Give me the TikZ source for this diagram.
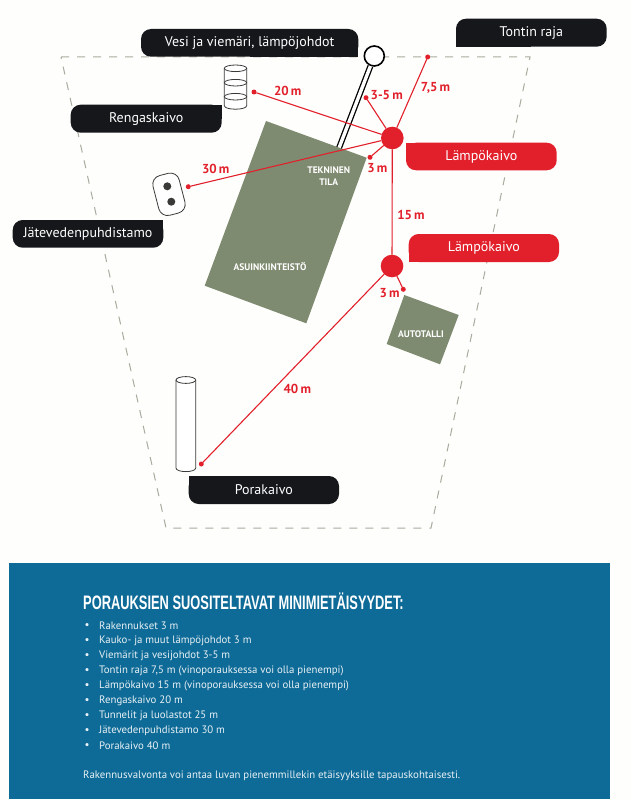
\documentclass[tikz,border=0pt]{standalone}
\usepackage{fontspec}
\setmainfont{PT Sans}
\newfontfamily\condfont[FakeStretch=0.66]{Liberation Sans}
\usetikzlibrary{calc}
\definecolor{paper}{HTML}{FEFEFC}
\definecolor{tabblack}{HTML}{15171A}
\definecolor{tabred}{HTML}{E2202C}
\definecolor{bluepanel}{HTML}{0E6A97}
\definecolor{houseg}{HTML}{7F8B70}
\definecolor{dashg}{HTML}{A8AB9E}
\definecolor{welline}{HTML}{3A3A38}
\definecolor{listtext}{HTML}{E8F1F5}
\tikzset{
  tabshape/.style={rounded corners=10pt,inner sep=0pt,outer sep=0pt,draw=none},
  tabtext/.style={text=white,font=\fontsize{14}{14}\selectfont,inner sep=0pt},
  distline/.style={draw=tabred,line width=1.1pt},
  reddot/.style={circle,fill=tabred,inner sep=0pt,minimum size=5pt,outer sep=0pt},
  bigdot/.style={circle,fill=tabred,inner sep=0pt,minimum size=22.6pt,outer sep=0pt},
  distlabel/.style={text=tabred,font=\fontsize{13}{13}\selectfont\bfseries,inner sep=0pt},
  houselabel/.style={text=white,font=\fontsize{9.5}{9.5}\selectfont\bfseries,inner sep=0pt},
  houseshape/.style={fill=houseg,draw=none},
  welloutline/.style={draw=welline,line width=0.8pt,fill=white},
  plotedge/.style={draw=dashg,line width=1pt,dash pattern=on 8pt off 8pt},
  itemtext/.style={text=listtext,anchor=west,font=\fontsize{10.8}{11}\selectfont,inner sep=0pt},
}
% name, x1,y1,x2,y2, colour, square corner anchor, text
\newcommand{\tabbox}[8]{%
  \path let \p1=(#2,#3), \p2=(#4,#5) in
    node[tabshape,fill=#6,minimum width=\x2-\x1,minimum height=\y1-\y2] (#1) at ($(#2,#3)!.5!(#4,#5)$) {};
  \fill[#6] (#1.#7) rectangle (#1.center);
  \node[tabtext] (#1text) at (#1.center) {#8};
}
\newcommand{\listitem}[3]{%
  \node[text=listtext,font=\fontsize{11}{11}\selectfont,inner sep=0pt] (b#1) at (87,#2) {•};
  \node[itemtext] (i#1) at (99,#2) {#3};
}
\begin{document}
\begin{tikzpicture}[x=1pt,y=-1pt]
\useasboundingbox (0,0) rectangle (631,800);
\fill[paper] (0,0) rectangle (631,800);
% plot boundary
\coordinate (pa) at (61,57); \coordinate (pb) at (530,57);
\coordinate (pc) at (431,528); \coordinate (pd) at (166,528);
\draw[plotedge] (pa) -- (pb) -- (pc) -- (pd) -- cycle;
% pipe
\node[circle,draw=black,fill=white,line width=1.6pt,minimum size=20pt,inner sep=0pt] (pipehead) at (374.3,56) {};
\coordinate (pipefoot) at (338.6,149);
\draw[line width=1.3pt,draw=black,double=white,double distance=3.4pt] (pipehead) -- (pipefoot);
% buildings
\path[houseshape] (266,121) -- (366.7,157.7) -- (306.3,323.3) -- (204.7,285.7) -- cycle;
\path[houseshape] (404.3,295) -- (458.7,315) -- (440,364.3) -- (386.7,344) -- cycle;
\node[houselabel] (tek1) at (328.7,170) {TEKNINEN};
\node[houselabel] (tek2) at (328.7,182.3) {TILA};
\node[houselabel] (asu) at (270,266) {ASUINKIINTEISTÖ};
\node[houselabel] (aut) at (421,333.7) {AUTOTALLI};
% ring well
\draw[welloutline] (224.3,68.3) -- (224.3,105.6) .. controls (224.3,110.4) and (246.7,110.4) .. (246.7,105.6) -- (246.7,68.3);
\draw[welloutline] (235.5,68.3) ellipse [x radius=11.2,y radius=3.3];
\draw[welloutline] (235.5,82.7) ellipse [x radius=11.2,y radius=3.3];
\draw[welloutline] (235.5,96.7) ellipse [x radius=11.2,y radius=3.3];
% septic
\node[draw=welline,line width=0.8pt,fill=white,rounded corners=9pt,rotate=14.5,minimum width=27pt,minimum height=41pt,inner sep=0pt] (sept) at (169,194.3) {};
\fill[welline] (167.3,186.3) circle (4);
\fill[welline] (171.3,201.7) circle (4);
% bore well
\draw[welloutline] (176,380) -- (176,468) .. controls (176,472.8) and (195.7,472.8) .. (195.7,468) -- (195.7,380);
\draw[welloutline] (185.85,380) ellipse [x radius=9.85,y radius=3.4];
% distance end points
\node[reddot] (d20) at (254,92) {};
\node[reddot] (d35) at (366,97.7) {};
\node[reddot] (d75) at (427.7,57) {};
\node[reddot] (d3a) at (370,157.3) {};
\node[reddot] (d30) at (188.3,186.7) {};
\node[reddot] (d3b) at (403.3,289.3) {};
\node[reddot] (d40) at (201.3,464) {};
\node[bigdot] (w1) at (392.3,138) {};
\node[bigdot] (w2) at (392,266) {};
\draw[distline] (w1) -- (d20);
\draw[distline] (w1) -- (d35);
\draw[distline] (w1) -- (d75);
\draw[distline] (w1) -- (d3a);
\draw[distline] (w1) -- (d30);
\draw[distline] (w1) -- (w2);
\draw[distline] (w2) -- (d3b);
\draw[distline] (w2) -- (d40);
% distance labels
\node[distlabel] (l20) at (287.7,90.7) {20\,m};
\node[distlabel] (l35) at (386.7,95) {3-5\,m};
\node[distlabel] (l75) at (435.5,88.3) {7,5\,m};
\node[distlabel] (l3a) at (377.3,168.3) {3\,m};
\node[distlabel] (l30) at (215.7,169.3) {30\,m};
\node[distlabel] (l15) at (411,215) {15\,m};
\node[distlabel] (l3b) at (389.7,293) {3\,m};
\node[distlabel] (l40) at (297.3,389.3) {40\,m};
% tabs
\tabbox{vesi}{141}{29}{358.3}{56.7}{tabblack}{south east}{Vesi ja viemäri, lämpöjohdot}
\tabbox{tontti}{456}{18.7}{606.7}{46.7}{tabblack}{south west}{Tontin raja}
\tabbox{rengas}{70.7}{104.7}{221.7}{132.7}{tabblack}{north east}{Rengaskaivo}
\tabbox{jate}{12.7}{220}{163.3}{247.7}{tabblack}{north east}{Jätevedenpuhdistamo}
\tabbox{lampa}{406}{142.7}{556.7}{170.3}{tabred}{north west}{Lämpökaivo}
\tabbox{lampb}{408.7}{234}{559}{262}{tabred}{south west}{Lämpökaivo}
\tabbox{pora}{188.7}{476}{339}{504}{tabblack}{north west}{Porakaivo}
% blue panel
\fill[bluepanel] (9,563) rectangle (610,799);
\node[anchor=west,text=white,inner sep=0pt,font=\fontsize{19.5}{20}\condfont\bfseries] (title) at (83,601) {PORAUKSIEN SUOSITELTAVAT MINIMIETÄISYYDET:};
\listitem{1}{625.7}{Rakennukset 3 m}
\listitem{2}{641}{Kauko- ja muut lämpöjohdot 3 m}
\listitem{3}{656}{Viemärit ja vesijohdot 3-5 m}
\listitem{4}{671}{Tontin raja 7,5 m (vinoporauksessa voi olla pienempi)}
\listitem{5}{686}{Lämpökaivo 15 m (vinoporauksessa voi olla pienempi)}
\listitem{6}{700.7}{Rengaskaivo 20 m}
\listitem{7}{715.7}{Tunnelit ja luolastot 25 m}
\listitem{8}{730.7}{Jätevedenpuhdistamo 30 m}
\listitem{9}{745.7}{Porakaivo 40 m}
\node[itemtext] (note) at (83,775.7) {Rakennusvalvonta voi antaa luvan pienemmillekin etäisyyksille tapauskohtaisesti.};
\end{tikzpicture}
\end{document}
